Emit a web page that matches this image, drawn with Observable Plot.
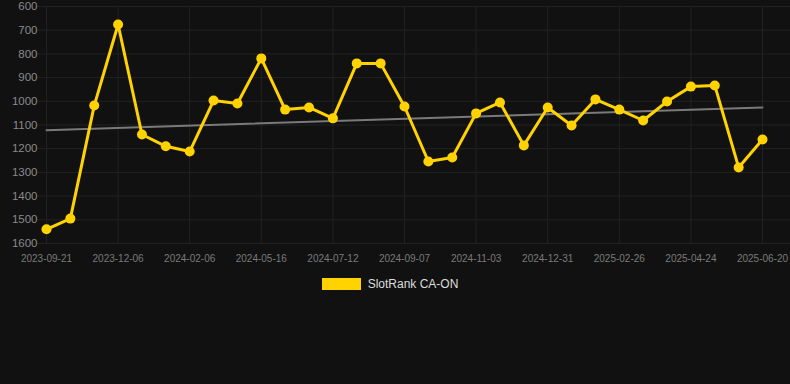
<!DOCTYPE html>
<html>
<head>
<meta charset="utf-8">
<script src="https://cdn.jsdelivr.net/npm/d3@7"></script>
<script src="https://cdn.jsdelivr.net/npm/@observablehq/plot@0.6"></script>
<style>
  html, body { margin: 0; padding: 0; background: #111111; }
  body { width: 790px; height: 384px; overflow: hidden; font-family: "Liberation Sans", Arial, sans-serif; }
  #legend { display: flex; justify-content: center; align-items: center; height: 14px; margin-top: 7px; padding-right: 10px; }
  #legend .sw { width: 39px; height: 12px; background: #ffd200; margin-right: 7px; }
  #legend .lb { color: #dddddd; font-size: 12px; }
</style>
</head>
<body>
<div id="chart"></div>
<div id="legend"><span class="sw"></span><span class="lb">SlotRank CA-ON</span></div>
<script>
// Tick labels (every third point)
const tickLabels = ["2023-09-21","2023-12-06","2024-02-06","2024-05-16","2024-07-12","2024-09-07","2024-11-03","2024-12-31","2025-02-26","2025-04-24","2025-06-20"];
// Rank values (lower is better, reversed axis)
const ranks = [1540,1495,1018,676,1140,1190,1212,997,1009,819,1035,1026,1072,840,840,1022,1254,1237,1051,1005,1186,1026,1102,992,1035,1081,1001,938,933,1279,1161];
// Trend line endpoints
const trendEnds = [1122, 1026];
const yTicks = [600,700,800,900,1000,1100,1200,1300,1400,1500,1600];

const data = ranks.map((v, i) => ({i, v}));
const n = ranks.length;
const trend = [{i: 0, v: trendEnds[0]}, {i: n - 1, v: trendEnds[1]}];
const tickIdx = tickLabels.map((_, k) => k * 3);
const fmtX = d => tickLabels[d / 3];
const fmtY = d => String(d);

const chart = Plot.plot({
  width: 790,
  height: 270,
  marginLeft: 40,
  marginRight: 0,
  marginTop: 6,
  marginBottom: 27,
  style: {background: "#111111", fontFamily: "Liberation Sans, Arial, sans-serif"},
  x: {type: "linear", domain: [-0.251, 31.173]},
  y: {domain: [600, 1600], reverse: true},
  marks: [
    Plot.ruleY(yTicks, {x1: -0.377, x2: 31.173, stroke: "#222222", strokeWidth: 1}),
    Plot.ruleX(tickIdx, {y1: 600, y2: 1600, stroke: "#222222", strokeWidth: 1}),
    Plot.axisY({ticks: yTicks, tickFormat: fmtY, tickSize: 0, tickPadding: 3, fontSize: 11.5, fill: "#8a8a8a", label: null}),
    Plot.axisX({ticks: tickIdx, tickFormat: fmtX, tickSize: 0, tickPadding: 11, fontSize: 10, fill: "#7a7a7a", label: null}),
    Plot.line(trend, {x: "i", y: "v", stroke: "#7a7a7a", strokeWidth: 2}),
    Plot.line(data, {x: "i", y: "v", stroke: "#ffd200", strokeWidth: 3}),
    Plot.dot(data, {x: "i", y: "v", r: 5, fill: "#ffd200", stroke: "none"})
  ]
});
document.getElementById("chart").appendChild(chart);
</script>
</body>
</html>
